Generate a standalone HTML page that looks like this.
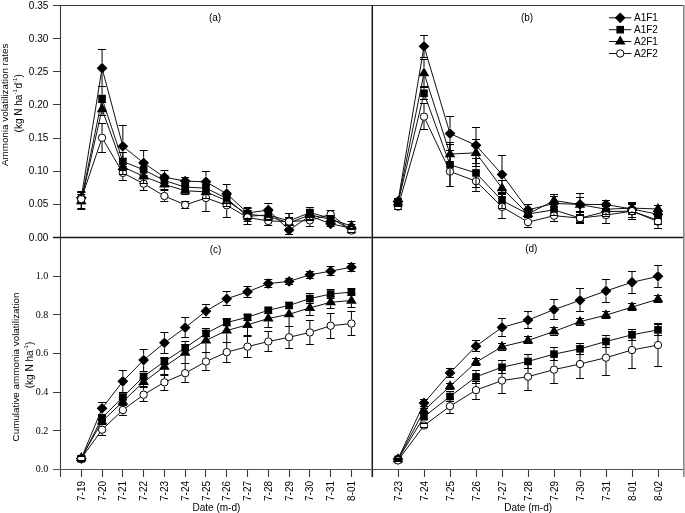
<!DOCTYPE html>
<html><head><meta charset="utf-8"><style>
html,body{margin:0;padding:0;background:#fff;width:685px;height:513px;overflow:hidden}
svg{display:block;will-change:transform}
</style></head><body>
<svg width="685" height="513" viewBox="0 0 685 513">
<rect x="0" y="0" width="685" height="513" fill="#fff"/>
<path d="M60.5 5.5V477M53 5.5H683.5M53 237.50H60.5M53 204.50H60.5M53 171.50H60.5M53 138.50H60.5M53 104.50H60.5M53 71.50H60.5M53 38.50H60.5M53 5.50H60.5M53 469.50H60.5M53 430.50H60.5M53 392.50H60.5M53 353.50H60.5M53 314.50H60.5M53 276.50H60.5M53 237.50H60.5M81.50 469.5V477M102.50 469.5V477M122.50 469.5V477M143.50 469.5V477M164.50 469.5V477M185.50 469.5V477M205.50 469.5V477M226.50 469.5V477M247.50 469.5V477M268.50 469.5V477M289.50 469.5V477M309.50 469.5V477M330.50 469.5V477M351.50 469.5V477M372.50 469.5V477M398.50 469.5V477M424.50 469.5V477M450.50 469.5V477M476.50 469.5V477M502.50 469.5V477M528.50 469.5V477M554.50 469.5V477M580.50 469.5V477M606.50 469.5V477M632.50 469.5V477M658.50 469.5V477M684.50 469.5V477" stroke="#3a3a3a" stroke-width="1.1" fill="none"/>
<path d="M372.3 5V477M53 237.5H684" stroke="#1a1a1a" stroke-width="1.5" fill="none"/>
<path d="M53 469.5H683" stroke="#555" stroke-width="1.1" fill="none"/>
<rect x="683" y="5" width="1" height="472" fill="#888"/>
<rect x="684" y="5" width="1" height="472" fill="#b3b3b3"/>
<polyline points="81.28,197.73 102.06,68.14 122.84,146.29 143.62,162.93 164.40,177.25 185.18,181.09 205.96,181.82 226.74,193.75 247.52,212.97 268.30,210.06 289.08,230.08 309.86,215.89 330.64,223.78 351.42,228.22" stroke="#111" stroke-width="1" fill="none"/>
<path d="M81.28 192.33L86.68 197.73L81.28 203.13L75.88 197.73Z" fill="#000"/>
<path d="M102.06 62.74L107.46 68.14L102.06 73.54L96.66 68.14Z" fill="#000"/>
<path d="M122.84 140.89L128.24 146.29L122.84 151.69L117.44 146.29Z" fill="#000"/>
<path d="M143.62 157.53L149.02 162.93L143.62 168.33L138.22 162.93Z" fill="#000"/>
<path d="M164.40 171.85L169.80 177.25L164.40 182.65L159.00 177.25Z" fill="#000"/>
<path d="M185.18 175.69L190.58 181.09L185.18 186.49L179.78 181.09Z" fill="#000"/>
<path d="M205.96 176.42L211.36 181.82L205.96 187.22L200.56 181.82Z" fill="#000"/>
<path d="M226.74 188.35L232.14 193.75L226.74 199.15L221.34 193.75Z" fill="#000"/>
<path d="M247.52 207.57L252.92 212.97L247.52 218.37L242.12 212.97Z" fill="#000"/>
<path d="M268.30 204.66L273.70 210.06L268.30 215.46L262.90 210.06Z" fill="#000"/>
<path d="M289.08 224.68L294.48 230.08L289.08 235.48L283.68 230.08Z" fill="#000"/>
<path d="M309.86 210.49L315.26 215.89L309.86 221.29L304.46 215.89Z" fill="#000"/>
<path d="M330.64 218.38L336.04 223.78L330.64 229.18L325.24 223.78Z" fill="#000"/>
<path d="M351.42 222.82L356.82 228.22L351.42 233.62L346.02 228.22Z" fill="#000"/>
<polyline points="81.28,200.38 102.06,98.57 122.84,161.47 143.62,169.76 164.40,180.49 185.18,187.12 205.96,188.12 226.74,198.39 247.52,216.29 268.30,214.96 289.08,220.93 309.86,212.58 330.64,218.28 351.42,229.88" stroke="#111" stroke-width="1" fill="none"/>
<rect x="77.48" y="196.58" width="7.60" height="7.60" fill="#000"/>
<rect x="98.26" y="94.77" width="7.60" height="7.60" fill="#000"/>
<rect x="119.04" y="157.67" width="7.60" height="7.60" fill="#000"/>
<rect x="139.82" y="165.96" width="7.60" height="7.60" fill="#000"/>
<rect x="160.60" y="176.69" width="7.60" height="7.60" fill="#000"/>
<rect x="181.38" y="183.32" width="7.60" height="7.60" fill="#000"/>
<rect x="202.16" y="184.32" width="7.60" height="7.60" fill="#000"/>
<rect x="222.94" y="194.59" width="7.60" height="7.60" fill="#000"/>
<rect x="243.72" y="212.49" width="7.60" height="7.60" fill="#000"/>
<rect x="264.50" y="211.16" width="7.60" height="7.60" fill="#000"/>
<rect x="285.28" y="217.13" width="7.60" height="7.60" fill="#000"/>
<rect x="306.06" y="208.78" width="7.60" height="7.60" fill="#000"/>
<rect x="326.84" y="214.48" width="7.60" height="7.60" fill="#000"/>
<rect x="347.62" y="226.08" width="7.60" height="7.60" fill="#000"/>
<polyline points="81.28,201.04 102.06,109.24 122.84,166.84 143.62,176.38 164.40,184.47 185.18,190.70 205.96,191.90 226.74,200.78 247.52,214.30 268.30,216.29 289.08,222.92 309.86,214.96 330.64,219.27 351.42,225.90" stroke="#111" stroke-width="1" fill="none"/>
<path d="M81.28 195.14L86.58 204.14L75.98 204.14Z" fill="#000"/>
<path d="M102.06 103.34L107.36 112.34L96.76 112.34Z" fill="#000"/>
<path d="M122.84 160.94L128.14 169.94L117.54 169.94Z" fill="#000"/>
<path d="M143.62 170.48L148.92 179.48L138.32 179.48Z" fill="#000"/>
<path d="M164.40 178.57L169.70 187.57L159.10 187.57Z" fill="#000"/>
<path d="M185.18 184.80L190.48 193.80L179.88 193.80Z" fill="#000"/>
<path d="M205.96 186.00L211.26 195.00L200.66 195.00Z" fill="#000"/>
<path d="M226.74 194.88L232.04 203.88L221.44 203.88Z" fill="#000"/>
<path d="M247.52 208.40L252.82 217.40L242.22 217.40Z" fill="#000"/>
<path d="M268.30 210.39L273.60 219.39L263.00 219.39Z" fill="#000"/>
<path d="M289.08 217.02L294.38 226.02L283.78 226.02Z" fill="#000"/>
<path d="M309.86 209.06L315.16 218.06L304.56 218.06Z" fill="#000"/>
<path d="M330.64 213.37L335.94 222.37L325.34 222.37Z" fill="#000"/>
<path d="M351.42 220.00L356.72 229.00L346.12 229.00Z" fill="#000"/>
<polyline points="81.28,199.05 102.06,137.74 122.84,172.87 143.62,183.68 164.40,196.01 185.18,204.89 205.96,197.99 226.74,205.29 247.52,217.42 268.30,220.99 289.08,221.59 309.86,220.40 330.64,214.30 351.42,230.54" stroke="#111" stroke-width="1" fill="none"/>
<circle cx="81.28" cy="199.05" r="3.7" fill="#fff" stroke="#000" stroke-width="1"/>
<circle cx="102.06" cy="137.74" r="3.7" fill="#fff" stroke="#000" stroke-width="1"/>
<circle cx="122.84" cy="172.87" r="3.7" fill="#fff" stroke="#000" stroke-width="1"/>
<circle cx="143.62" cy="183.68" r="3.7" fill="#fff" stroke="#000" stroke-width="1"/>
<circle cx="164.40" cy="196.01" r="3.7" fill="#fff" stroke="#000" stroke-width="1"/>
<circle cx="185.18" cy="204.89" r="3.7" fill="#fff" stroke="#000" stroke-width="1"/>
<circle cx="205.96" cy="197.99" r="3.7" fill="#fff" stroke="#000" stroke-width="1"/>
<circle cx="226.74" cy="205.29" r="3.7" fill="#fff" stroke="#000" stroke-width="1"/>
<circle cx="247.52" cy="217.42" r="3.7" fill="#fff" stroke="#000" stroke-width="1"/>
<circle cx="268.30" cy="220.99" r="3.7" fill="#fff" stroke="#000" stroke-width="1"/>
<circle cx="289.08" cy="221.59" r="3.7" fill="#fff" stroke="#000" stroke-width="1"/>
<circle cx="309.86" cy="220.40" r="3.7" fill="#fff" stroke="#000" stroke-width="1"/>
<circle cx="330.64" cy="214.30" r="3.7" fill="#fff" stroke="#000" stroke-width="1"/>
<circle cx="351.42" cy="230.54" r="3.7" fill="#fff" stroke="#000" stroke-width="1"/>
<path d="M81.28 191.50V192.33M81.28 203.50V203.13M102.06 49.50V62.74M102.06 86.50V73.54M122.84 125.50V140.89M122.84 166.50V151.69M143.62 150.50V157.53M143.62 175.50V168.33M164.40 170.50V171.85M164.40 183.50V182.65M205.96 171.50V176.42M205.96 192.50V187.22M226.74 184.50V188.35M226.74 203.50V199.15M247.52 207.50V207.57M247.52 218.50V218.37M268.30 203.50V204.66M268.30 216.50V215.46" stroke="#000" stroke-width="1" fill="none"/>
<path d="M77.28 191.50H85.28M77.28 203.50H85.28M98.06 49.50H106.06M98.06 86.50H106.06M118.84 125.50H126.84M118.84 166.50H126.84M139.62 150.50H147.62M139.62 175.50H147.62M160.40 170.50H168.40M160.40 183.50H168.40M181.18 177.50H189.18M181.18 185.50H189.18M201.96 171.50H209.96M201.96 192.50H209.96M222.74 184.50H230.74M222.74 203.50H230.74M243.52 207.50H251.52M243.52 218.50H251.52M264.30 203.50H272.30M264.30 216.50H272.30M285.08 225.50H293.08M285.08 234.50H293.08M305.86 211.50H313.86M305.86 220.50H313.86M326.64 221.50H334.64M326.64 226.50H334.64M347.42 224.50H355.42M347.42 232.50H355.42" stroke="#000" stroke-width="1" fill="none"/>
<path d="M81.28 192.50V196.58M81.28 208.50V204.18M102.06 86.50V94.77M102.06 110.50V102.37M122.84 152.50V157.67M122.84 170.50V165.27M143.62 161.50V165.96M143.62 177.50V173.56M164.40 175.50V176.69M164.40 185.50V184.29M185.18 191.50V190.92M205.96 181.50V184.32M205.96 194.50V191.92M226.74 193.50V194.59M226.74 203.50V202.19M247.52 210.50V212.49M247.52 221.50V220.09M268.30 210.50V211.16M268.30 219.50V218.76M289.08 213.50V217.13M289.08 228.50V224.73M309.86 207.50V208.78M309.86 217.50V216.38" stroke="#000" stroke-width="1" fill="none"/>
<path d="M77.28 192.50H85.28M77.28 208.50H85.28M98.06 86.50H106.06M98.06 110.50H106.06M118.84 152.50H126.84M118.84 170.50H126.84M139.62 161.50H147.62M139.62 177.50H147.62M160.40 175.50H168.40M160.40 185.50H168.40M181.18 183.50H189.18M181.18 191.50H189.18M201.96 181.50H209.96M201.96 194.50H209.96M222.74 193.50H230.74M222.74 203.50H230.74M243.52 210.50H251.52M243.52 221.50H251.52M264.30 210.50H272.30M264.30 219.50H272.30M285.08 213.50H293.08M285.08 228.50H293.08M305.86 207.50H313.86M305.86 217.50H313.86M326.64 215.50H334.64M326.64 220.50H334.64M347.42 226.50H355.42M347.42 232.50H355.42" stroke="#000" stroke-width="1" fill="none"/>
<path d="M81.28 192.50V195.14M81.28 209.50V204.14M102.06 102.50V103.34M102.06 115.50V112.34M122.84 158.50V160.94M122.84 174.50V169.94M143.62 169.50V170.48M143.62 183.50V179.48M164.40 189.50V187.57M185.18 194.50V193.80M205.96 185.50V186.00M205.96 198.50V195.00M226.74 206.50V203.88M247.52 219.50V217.40M268.30 220.50V219.39M289.08 228.50V226.02M309.86 219.50V218.06M351.42 229.50V229.00" stroke="#000" stroke-width="1" fill="none"/>
<path d="M77.28 192.50H85.28M77.28 209.50H85.28M98.06 102.50H106.06M98.06 115.50H106.06M118.84 158.50H126.84M118.84 174.50H126.84M139.62 169.50H147.62M139.62 183.50H147.62M160.40 179.50H168.40M160.40 189.50H168.40M181.18 186.50H189.18M181.18 194.50H189.18M201.96 185.50H209.96M201.96 198.50H209.96M222.74 195.50H230.74M222.74 206.50H230.74M243.52 208.50H251.52M243.52 219.50H251.52M264.30 211.50H272.30M264.30 220.50H272.30M285.08 217.50H293.08M285.08 228.50H293.08M305.86 210.50H313.86M305.86 219.50H313.86M326.64 216.50H334.64M326.64 221.50H334.64M347.42 221.50H355.42M347.42 229.50H355.42" stroke="#000" stroke-width="1" fill="none"/>
<path d="M81.28 194.50V194.85M81.28 203.50V203.25M102.06 123.50V133.54M102.06 152.50V141.94M122.84 164.50V168.67M122.84 180.50V177.07M143.62 176.50V179.48M143.62 190.50V187.88M164.40 190.50V191.81M164.40 201.50V200.21M205.96 184.50V193.79M205.96 211.50V202.19M226.74 193.50V201.09M226.74 217.50V209.49M247.52 210.50V213.22M247.52 224.50V221.62M268.30 216.50V216.79M268.30 225.50V225.19M289.08 213.50V217.39M289.08 229.50V225.79M309.86 214.50V216.20M309.86 226.50V224.60" stroke="#000" stroke-width="1" fill="none"/>
<path d="M77.28 194.50H85.28M77.28 203.50H85.28M98.06 123.50H106.06M98.06 152.50H106.06M118.84 164.50H126.84M118.84 180.50H126.84M139.62 176.50H147.62M139.62 190.50H147.62M160.40 190.50H168.40M160.40 201.50H168.40M181.18 201.50H189.18M181.18 208.50H189.18M201.96 184.50H209.96M201.96 211.50H209.96M222.74 193.50H230.74M222.74 217.50H230.74M243.52 210.50H251.52M243.52 224.50H251.52M264.30 216.50H272.30M264.30 225.50H272.30M285.08 213.50H293.08M285.08 229.50H293.08M305.86 214.50H313.86M305.86 226.50H313.86M326.64 210.50H334.64M326.64 217.50H334.64M347.42 228.50H355.42M347.42 232.50H355.42" stroke="#000" stroke-width="1" fill="none"/>
<polyline points="398.00,201.51 424.00,46.33 450.00,133.56 476.00,145.36 502.00,174.40 528.00,209.86 554.00,203.50 580.00,204.36 606.00,204.56 632.00,209.00 658.00,214.30" stroke="#111" stroke-width="1" fill="none"/>
<path d="M398.00 196.11L403.40 201.51L398.00 206.91L392.60 201.51Z" fill="#000"/>
<path d="M424.00 40.93L429.40 46.33L424.00 51.73L418.60 46.33Z" fill="#000"/>
<path d="M450.00 128.16L455.40 133.56L450.00 138.96L444.60 133.56Z" fill="#000"/>
<path d="M476.00 139.96L481.40 145.36L476.00 150.76L470.60 145.36Z" fill="#000"/>
<path d="M502.00 169.00L507.40 174.40L502.00 179.80L496.60 174.40Z" fill="#000"/>
<path d="M528.00 204.46L533.40 209.86L528.00 215.26L522.60 209.86Z" fill="#000"/>
<path d="M554.00 198.10L559.40 203.50L554.00 208.90L548.60 203.50Z" fill="#000"/>
<path d="M580.00 198.96L585.40 204.36L580.00 209.76L574.60 204.36Z" fill="#000"/>
<path d="M606.00 199.16L611.40 204.56L606.00 209.96L600.60 204.56Z" fill="#000"/>
<path d="M632.00 203.60L637.40 209.00L632.00 214.40L626.60 209.00Z" fill="#000"/>
<path d="M658.00 208.90L663.40 214.30L658.00 219.70L652.60 214.30Z" fill="#000"/>
<polyline points="398.00,203.03 424.00,93.26 450.00,164.78 476.00,172.94 502.00,200.51 528.00,213.97 554.00,209.86 580.00,218.08 606.00,211.65 632.00,211.12 658.00,220.27" stroke="#111" stroke-width="1" fill="none"/>
<rect x="394.20" y="199.23" width="7.60" height="7.60" fill="#000"/>
<rect x="420.20" y="89.46" width="7.60" height="7.60" fill="#000"/>
<rect x="446.20" y="160.98" width="7.60" height="7.60" fill="#000"/>
<rect x="472.20" y="169.14" width="7.60" height="7.60" fill="#000"/>
<rect x="498.20" y="196.71" width="7.60" height="7.60" fill="#000"/>
<rect x="524.20" y="210.17" width="7.60" height="7.60" fill="#000"/>
<rect x="550.20" y="206.06" width="7.60" height="7.60" fill="#000"/>
<rect x="576.20" y="214.28" width="7.60" height="7.60" fill="#000"/>
<rect x="602.20" y="207.85" width="7.60" height="7.60" fill="#000"/>
<rect x="628.20" y="207.32" width="7.60" height="7.60" fill="#000"/>
<rect x="654.20" y="216.47" width="7.60" height="7.60" fill="#000"/>
<polyline points="398.00,202.37 424.00,73.11 450.00,154.05 476.00,152.85 502.00,188.12 528.00,213.97 554.00,200.51 580.00,204.56 606.00,209.26 632.00,208.07 658.00,209.00" stroke="#111" stroke-width="1" fill="none"/>
<path d="M398.00 196.47L403.30 205.47L392.70 205.47Z" fill="#000"/>
<path d="M424.00 67.21L429.30 76.21L418.70 76.21Z" fill="#000"/>
<path d="M450.00 148.15L455.30 157.15L444.70 157.15Z" fill="#000"/>
<path d="M476.00 146.95L481.30 155.95L470.70 155.95Z" fill="#000"/>
<path d="M502.00 182.22L507.30 191.22L496.70 191.22Z" fill="#000"/>
<path d="M528.00 208.07L533.30 217.07L522.70 217.07Z" fill="#000"/>
<path d="M554.00 194.61L559.30 203.61L548.70 203.61Z" fill="#000"/>
<path d="M580.00 198.66L585.30 207.66L574.70 207.66Z" fill="#000"/>
<path d="M606.00 203.36L611.30 212.36L600.70 212.36Z" fill="#000"/>
<path d="M632.00 202.17L637.30 211.17L626.70 211.17Z" fill="#000"/>
<path d="M658.00 203.10L663.30 212.10L652.70 212.10Z" fill="#000"/>
<polyline points="398.00,206.61 424.00,116.66 450.00,171.55 476.00,181.16 502.00,206.88 528.00,222.12 554.00,215.69 580.00,218.08 606.00,215.10 632.00,211.12 658.00,221.59" stroke="#111" stroke-width="1" fill="none"/>
<circle cx="398.00" cy="206.61" r="3.7" fill="#fff" stroke="#000" stroke-width="1"/>
<circle cx="424.00" cy="116.66" r="3.7" fill="#fff" stroke="#000" stroke-width="1"/>
<circle cx="450.00" cy="171.55" r="3.7" fill="#fff" stroke="#000" stroke-width="1"/>
<circle cx="476.00" cy="181.16" r="3.7" fill="#fff" stroke="#000" stroke-width="1"/>
<circle cx="502.00" cy="206.88" r="3.7" fill="#fff" stroke="#000" stroke-width="1"/>
<circle cx="528.00" cy="222.12" r="3.7" fill="#fff" stroke="#000" stroke-width="1"/>
<circle cx="554.00" cy="215.69" r="3.7" fill="#fff" stroke="#000" stroke-width="1"/>
<circle cx="580.00" cy="218.08" r="3.7" fill="#fff" stroke="#000" stroke-width="1"/>
<circle cx="606.00" cy="215.10" r="3.7" fill="#fff" stroke="#000" stroke-width="1"/>
<circle cx="632.00" cy="211.12" r="3.7" fill="#fff" stroke="#000" stroke-width="1"/>
<circle cx="658.00" cy="221.59" r="3.7" fill="#fff" stroke="#000" stroke-width="1"/>
<path d="M424.00 35.50V40.93M424.00 57.50V51.73M450.00 116.50V128.16M450.00 150.50V138.96M476.00 127.50V139.96M476.00 163.50V150.76M502.00 155.50V169.00M502.00 193.50V179.80M528.00 215.50V215.26M554.00 196.50V198.10M554.00 210.50V208.90M580.00 197.50V198.96M580.00 211.50V209.76M632.00 203.50V203.60M632.00 214.50V214.40" stroke="#000" stroke-width="1" fill="none"/>
<path d="M394.00 198.50H402.00M394.00 204.50H402.00M420.00 35.50H428.00M420.00 57.50H428.00M446.00 116.50H454.00M446.00 150.50H454.00M472.00 127.50H480.00M472.00 163.50H480.00M498.00 155.50H506.00M498.00 193.50H506.00M524.00 204.50H532.00M524.00 215.50H532.00M550.00 196.50H558.00M550.00 210.50H558.00M576.00 197.50H584.00M576.00 211.50H584.00M602.00 200.50H610.00M602.00 208.50H610.00M628.00 203.50H636.00M628.00 214.50H636.00M654.00 210.50H662.00M654.00 218.50H662.00" stroke="#000" stroke-width="1" fill="none"/>
<path d="M424.00 87.50V89.46M424.00 99.50V97.06M450.00 142.50V160.98M450.00 186.50V168.58M476.00 158.50V169.14M476.00 187.50V176.74M502.00 192.50V196.71M502.00 208.50V204.31M528.00 209.50V210.17M554.00 204.50V206.06M554.00 215.50V213.66M580.00 222.50V221.88M606.00 206.50V207.85M606.00 216.50V215.45M632.00 204.50V207.32M632.00 217.50V214.92M658.00 224.50V224.07" stroke="#000" stroke-width="1" fill="none"/>
<path d="M394.00 199.50H402.00M394.00 206.50H402.00M420.00 87.50H428.00M420.00 99.50H428.00M446.00 142.50H454.00M446.00 186.50H454.00M472.00 158.50H480.00M472.00 187.50H480.00M498.00 192.50H506.00M498.00 208.50H506.00M524.00 209.50H532.00M524.00 217.50H532.00M550.00 204.50H558.00M550.00 215.50H558.00M576.00 214.50H584.00M576.00 222.50H584.00M602.00 206.50H610.00M602.00 216.50H610.00M628.00 204.50H636.00M628.00 217.50H636.00M654.00 216.50H662.00M654.00 224.50H662.00" stroke="#000" stroke-width="1" fill="none"/>
<path d="M398.00 205.50V205.47M424.00 59.50V67.21M424.00 86.50V76.21M450.00 144.50V148.15M450.00 163.50V157.15M476.00 139.50V146.95M476.00 166.50V155.95M502.00 180.50V182.22M502.00 196.50V191.22M528.00 217.50V217.07M554.00 194.50V194.61M554.00 206.50V203.61M580.00 193.50V198.66M580.00 215.50V207.66M606.00 214.50V212.36M632.00 212.50V211.17M658.00 212.50V212.10" stroke="#000" stroke-width="1" fill="none"/>
<path d="M394.00 199.50H402.00M394.00 205.50H402.00M420.00 59.50H428.00M420.00 86.50H428.00M446.00 144.50H454.00M446.00 163.50H454.00M472.00 139.50H480.00M472.00 166.50H480.00M498.00 180.50H506.00M498.00 196.50H506.00M524.00 209.50H532.00M524.00 217.50H532.00M550.00 194.50H558.00M550.00 206.50H558.00M576.00 193.50H584.00M576.00 215.50H584.00M602.00 203.50H610.00M602.00 214.50H610.00M628.00 204.50H636.00M628.00 212.50H636.00M654.00 205.50H662.00M654.00 212.50H662.00" stroke="#000" stroke-width="1" fill="none"/>
<path d="M424.00 103.50V112.46M424.00 129.50V120.86M450.00 156.50V167.35M450.00 186.50V175.75M476.00 171.50V176.96M476.00 191.50V185.36M502.00 194.50V202.68M502.00 218.50V211.08M528.00 216.50V217.92M528.00 227.50V226.32M554.00 209.50V211.49M554.00 221.50V219.89M580.00 212.50V213.88M580.00 223.50V222.28M606.00 206.50V210.90M606.00 223.50V219.30M632.00 202.50V206.92M632.00 219.50V215.32M658.00 214.50V217.39M658.00 228.50V225.79" stroke="#000" stroke-width="1" fill="none"/>
<path d="M394.00 203.50H402.00M394.00 209.50H402.00M420.00 103.50H428.00M420.00 129.50H428.00M446.00 156.50H454.00M446.00 186.50H454.00M472.00 171.50H480.00M472.00 191.50H480.00M498.00 194.50H506.00M498.00 218.50H506.00M524.00 216.50H532.00M524.00 227.50H532.00M550.00 209.50H558.00M550.00 221.50H558.00M576.00 212.50H584.00M576.00 223.50H584.00M602.00 206.50H610.00M602.00 223.50H610.00M628.00 202.50H636.00M628.00 219.50H636.00M654.00 214.50H662.00M654.00 228.50H662.00" stroke="#000" stroke-width="1" fill="none"/>
<polyline points="81.28,458.48 102.06,408.33 122.84,381.34 143.62,360.07 164.40,342.87 185.18,327.59 205.96,311.16 226.74,298.79 247.52,291.83 268.30,283.57 289.08,281.39 309.86,274.81 330.64,271.14 351.42,267.16" stroke="#111" stroke-width="1" fill="none"/>
<path d="M81.28 453.08L86.68 458.48L81.28 463.88L75.88 458.48Z" fill="#000"/>
<path d="M102.06 402.93L107.46 408.33L102.06 413.73L96.66 408.33Z" fill="#000"/>
<path d="M122.84 375.94L128.24 381.34L122.84 386.74L117.44 381.34Z" fill="#000"/>
<path d="M143.62 354.67L149.02 360.07L143.62 365.47L138.22 360.07Z" fill="#000"/>
<path d="M164.40 337.47L169.80 342.87L164.40 348.27L159.00 342.87Z" fill="#000"/>
<path d="M185.18 322.19L190.58 327.59L185.18 332.99L179.78 327.59Z" fill="#000"/>
<path d="M205.96 305.76L211.36 311.16L205.96 316.56L200.56 311.16Z" fill="#000"/>
<path d="M226.74 293.39L232.14 298.79L226.74 304.19L221.34 298.79Z" fill="#000"/>
<path d="M247.52 286.43L252.92 291.83L247.52 297.23L242.12 291.83Z" fill="#000"/>
<path d="M268.30 278.17L273.70 283.57L268.30 288.97L262.90 283.57Z" fill="#000"/>
<path d="M289.08 275.99L294.48 281.39L289.08 286.79L283.68 281.39Z" fill="#000"/>
<path d="M309.86 269.41L315.26 274.81L309.86 280.21L304.46 274.81Z" fill="#000"/>
<path d="M330.64 265.74L336.04 271.14L330.64 276.54L325.24 271.14Z" fill="#000"/>
<path d="M351.42 261.76L356.82 267.16L351.42 272.56L346.02 267.16Z" fill="#000"/>
<polyline points="81.28,458.87 102.06,417.88 122.84,397.00 143.62,376.51 164.40,361.43 185.18,347.89 205.96,333.45 226.74,322.57 247.52,317.25 268.30,310.25 289.08,305.44 309.86,298.59 330.64,294.05 351.42,292.02" stroke="#111" stroke-width="1" fill="none"/>
<rect x="77.48" y="455.07" width="7.60" height="7.60" fill="#000"/>
<rect x="98.26" y="414.08" width="7.60" height="7.60" fill="#000"/>
<rect x="119.04" y="393.20" width="7.60" height="7.60" fill="#000"/>
<rect x="139.82" y="372.71" width="7.60" height="7.60" fill="#000"/>
<rect x="160.60" y="357.63" width="7.60" height="7.60" fill="#000"/>
<rect x="181.38" y="344.09" width="7.60" height="7.60" fill="#000"/>
<rect x="202.16" y="329.65" width="7.60" height="7.60" fill="#000"/>
<rect x="222.94" y="318.77" width="7.60" height="7.60" fill="#000"/>
<rect x="243.72" y="313.45" width="7.60" height="7.60" fill="#000"/>
<rect x="264.50" y="306.45" width="7.60" height="7.60" fill="#000"/>
<rect x="285.28" y="301.64" width="7.60" height="7.60" fill="#000"/>
<rect x="306.06" y="294.79" width="7.60" height="7.60" fill="#000"/>
<rect x="326.84" y="290.25" width="7.60" height="7.60" fill="#000"/>
<rect x="347.62" y="288.22" width="7.60" height="7.60" fill="#000"/>
<polyline points="81.28,457.90 102.06,421.36 122.84,401.64 143.62,381.92 164.40,366.65 185.18,352.63 205.96,340.45 226.74,330.49 247.52,324.89 268.30,318.51 289.08,314.25 309.86,307.87 330.64,302.27 351.42,300.53" stroke="#111" stroke-width="1" fill="none"/>
<path d="M81.28 452.00L86.58 461.00L75.98 461.00Z" fill="#000"/>
<path d="M102.06 415.46L107.36 424.46L96.76 424.46Z" fill="#000"/>
<path d="M122.84 395.74L128.14 404.74L117.54 404.74Z" fill="#000"/>
<path d="M143.62 376.02L148.92 385.02L138.32 385.02Z" fill="#000"/>
<path d="M164.40 360.75L169.70 369.75L159.10 369.75Z" fill="#000"/>
<path d="M185.18 346.73L190.48 355.73L179.88 355.73Z" fill="#000"/>
<path d="M205.96 334.55L211.26 343.55L200.66 343.55Z" fill="#000"/>
<path d="M226.74 324.59L232.04 333.59L221.44 333.59Z" fill="#000"/>
<path d="M247.52 318.99L252.82 327.99L242.22 327.99Z" fill="#000"/>
<path d="M268.30 312.61L273.60 321.61L263.00 321.61Z" fill="#000"/>
<path d="M289.08 308.35L294.38 317.35L283.78 317.35Z" fill="#000"/>
<path d="M309.86 301.97L315.16 310.97L304.56 310.97Z" fill="#000"/>
<path d="M330.64 296.37L335.94 305.37L325.34 305.37Z" fill="#000"/>
<path d="M351.42 294.63L356.72 303.63L346.12 303.63Z" fill="#000"/>
<polyline points="81.28,458.48 102.06,429.67 122.84,410.01 143.62,394.68 164.40,382.31 185.18,373.22 205.96,361.54 226.74,352.15 247.52,346.64 268.30,341.51 289.08,337.26 309.86,332.43 330.64,325.76 351.42,323.53" stroke="#111" stroke-width="1" fill="none"/>
<circle cx="81.28" cy="458.48" r="3.7" fill="#fff" stroke="#000" stroke-width="1"/>
<circle cx="102.06" cy="429.67" r="3.7" fill="#fff" stroke="#000" stroke-width="1"/>
<circle cx="122.84" cy="410.01" r="3.7" fill="#fff" stroke="#000" stroke-width="1"/>
<circle cx="143.62" cy="394.68" r="3.7" fill="#fff" stroke="#000" stroke-width="1"/>
<circle cx="164.40" cy="382.31" r="3.7" fill="#fff" stroke="#000" stroke-width="1"/>
<circle cx="185.18" cy="373.22" r="3.7" fill="#fff" stroke="#000" stroke-width="1"/>
<circle cx="205.96" cy="361.54" r="3.7" fill="#fff" stroke="#000" stroke-width="1"/>
<circle cx="226.74" cy="352.15" r="3.7" fill="#fff" stroke="#000" stroke-width="1"/>
<circle cx="247.52" cy="346.64" r="3.7" fill="#fff" stroke="#000" stroke-width="1"/>
<circle cx="268.30" cy="341.51" r="3.7" fill="#fff" stroke="#000" stroke-width="1"/>
<circle cx="289.08" cy="337.26" r="3.7" fill="#fff" stroke="#000" stroke-width="1"/>
<circle cx="309.86" cy="332.43" r="3.7" fill="#fff" stroke="#000" stroke-width="1"/>
<circle cx="330.64" cy="325.76" r="3.7" fill="#fff" stroke="#000" stroke-width="1"/>
<circle cx="351.42" cy="323.53" r="3.7" fill="#fff" stroke="#000" stroke-width="1"/>
<path d="M102.06 402.50V402.93M102.06 414.50V413.73M122.84 370.50V375.94M122.84 392.50V386.74M143.62 349.50V354.67M143.62 371.50V365.47M164.40 332.50V337.47M164.40 353.50V348.27M185.18 317.50V322.19M185.18 337.50V332.99M205.96 304.50V305.76M205.96 317.50V316.56M226.74 291.50V293.39M226.74 305.50V304.19M247.52 297.50V297.23" stroke="#000" stroke-width="1" fill="none"/>
<path d="M77.28 456.50H85.28M77.28 460.50H85.28M98.06 402.50H106.06M98.06 414.50H106.06M118.84 370.50H126.84M118.84 392.50H126.84M139.62 349.50H147.62M139.62 371.50H147.62M160.40 332.50H168.40M160.40 353.50H168.40M181.18 317.50H189.18M181.18 337.50H189.18M201.96 304.50H209.96M201.96 317.50H209.96M222.74 291.50H230.74M222.74 305.50H230.74M243.52 286.50H251.52M243.52 297.50H251.52M264.30 279.50H272.30M264.30 287.50H272.30M285.08 278.50H293.08M285.08 284.50H293.08M305.86 271.50H313.86M305.86 278.50H313.86M326.64 266.50H334.64M326.64 275.50H334.64M347.42 263.50H355.42M347.42 271.50H355.42" stroke="#000" stroke-width="1" fill="none"/>
<path d="M309.86 293.50V294.79M309.86 303.50V302.39M330.64 289.50V290.25M330.64 298.50V297.85" stroke="#000" stroke-width="1" fill="none"/>
<path d="M77.28 456.50H85.28M77.28 461.50H85.28M98.06 415.50H106.06M98.06 420.50H106.06M118.84 394.50H126.84M118.84 399.50H126.84M139.62 373.50H147.62M139.62 379.50H147.62M160.40 358.50H168.40M160.40 364.50H168.40M181.18 344.50H189.18M181.18 350.50H189.18M201.96 330.50H209.96M201.96 336.50H209.96M222.74 319.50H230.74M222.74 325.50H230.74M243.52 314.50H251.52M243.52 320.50H251.52M264.30 307.50H272.30M264.30 313.50H272.30M285.08 302.50H293.08M285.08 308.50H293.08M305.86 293.50H313.86M305.86 303.50H313.86M326.64 289.50H334.64M326.64 298.50H334.64M347.42 288.50H355.42M347.42 295.50H355.42" stroke="#000" stroke-width="1" fill="none"/>
<path d="M122.84 405.50V404.74M143.62 386.50V385.02M164.40 357.50V360.75M164.40 375.50V369.75M185.18 341.50V346.73M185.18 363.50V355.73M205.96 328.50V334.55M205.96 352.50V343.55M226.74 318.50V324.59M226.74 342.50V333.59M247.52 314.50V318.99M247.52 335.50V327.99M268.30 309.50V312.61M268.30 327.50V321.61M289.08 302.50V308.35M289.08 326.50V317.35M309.86 299.50V301.97M309.86 315.50V310.97M330.64 308.50V305.37M351.42 293.50V294.63M351.42 307.50V303.63" stroke="#000" stroke-width="1" fill="none"/>
<path d="M77.28 455.50H85.28M77.28 460.50H85.28M98.06 419.50H106.06M98.06 423.50H106.06M118.84 397.50H126.84M118.84 405.50H126.84M139.62 377.50H147.62M139.62 386.50H147.62M160.40 357.50H168.40M160.40 375.50H168.40M181.18 341.50H189.18M181.18 363.50H189.18M201.96 328.50H209.96M201.96 352.50H209.96M222.74 318.50H230.74M222.74 342.50H230.74M243.52 314.50H251.52M243.52 335.50H251.52M264.30 309.50H272.30M264.30 327.50H272.30M285.08 302.50H293.08M285.08 326.50H293.08M305.86 299.50H313.86M305.86 315.50H313.86M326.64 296.50H334.64M326.64 308.50H334.64M347.42 293.50H355.42M347.42 307.50H355.42" stroke="#000" stroke-width="1" fill="none"/>
<path d="M102.06 424.50V425.47M102.06 435.50V433.87M122.84 404.50V405.81M122.84 415.50V414.21M143.62 387.50V390.48M143.62 401.50V398.88M164.40 374.50V378.11M164.40 390.50V386.51M185.18 363.50V369.02M185.18 382.50V377.42M205.96 352.50V357.34M205.96 370.50V365.74M226.74 342.50V347.95M226.74 362.50V356.35M247.52 336.50V342.44M247.52 357.50V350.84M268.30 331.50V337.31M268.30 351.50V345.71M289.08 326.50V333.06M289.08 348.50V341.46M309.86 320.50V328.23M309.86 344.50V336.63M330.64 313.50V321.56M330.64 338.50V329.96M351.42 311.50V319.33M351.42 335.50V327.73" stroke="#000" stroke-width="1" fill="none"/>
<path d="M77.28 456.50H85.28M77.28 460.50H85.28M98.06 424.50H106.06M98.06 435.50H106.06M118.84 404.50H126.84M118.84 415.50H126.84M139.62 387.50H147.62M139.62 401.50H147.62M160.40 374.50H168.40M160.40 390.50H168.40M181.18 363.50H189.18M181.18 382.50H189.18M201.96 352.50H209.96M201.96 370.50H209.96M222.74 342.50H230.74M222.74 362.50H230.74M243.52 336.50H251.52M243.52 357.50H251.52M264.30 331.50H272.30M264.30 351.50H272.30M285.08 326.50H293.08M285.08 348.50H293.08M305.86 320.50H313.86M305.86 344.50H313.86M326.64 313.50H334.64M326.64 338.50H334.64M347.42 311.50H355.42M347.42 335.50H355.42" stroke="#000" stroke-width="1" fill="none"/>
<polyline points="398.00,459.06 424.00,402.99 450.00,372.93 476.00,346.15 502.00,327.40 528.00,320.05 554.00,309.61 580.00,300.33 606.00,290.96 632.00,282.26 658.00,276.36" stroke="#111" stroke-width="1" fill="none"/>
<path d="M398.00 453.66L403.40 459.06L398.00 464.46L392.60 459.06Z" fill="#000"/>
<path d="M424.00 397.59L429.40 402.99L424.00 408.39L418.60 402.99Z" fill="#000"/>
<path d="M450.00 367.53L455.40 372.93L450.00 378.33L444.60 372.93Z" fill="#000"/>
<path d="M476.00 340.75L481.40 346.15L476.00 351.55L470.60 346.15Z" fill="#000"/>
<path d="M502.00 322.00L507.40 327.40L502.00 332.80L496.60 327.40Z" fill="#000"/>
<path d="M528.00 314.65L533.40 320.05L528.00 325.45L522.60 320.05Z" fill="#000"/>
<path d="M554.00 304.21L559.40 309.61L554.00 315.01L548.60 309.61Z" fill="#000"/>
<path d="M580.00 294.93L585.40 300.33L580.00 305.73L574.60 300.33Z" fill="#000"/>
<path d="M606.00 285.56L611.40 290.96L606.00 296.36L600.60 290.96Z" fill="#000"/>
<path d="M632.00 276.86L637.40 282.26L632.00 287.66L626.60 282.26Z" fill="#000"/>
<path d="M658.00 270.96L663.40 276.36L658.00 281.76L652.60 276.36Z" fill="#000"/>
<polyline points="398.00,459.45 424.00,416.72 450.00,396.52 476.00,376.84 502.00,367.23 528.00,361.43 554.00,354.12 580.00,348.86 606.00,341.51 632.00,334.82 658.00,329.86" stroke="#111" stroke-width="1" fill="none"/>
<rect x="394.20" y="455.65" width="7.60" height="7.60" fill="#000"/>
<rect x="420.20" y="412.92" width="7.60" height="7.60" fill="#000"/>
<rect x="446.20" y="392.72" width="7.60" height="7.60" fill="#000"/>
<rect x="472.20" y="373.04" width="7.60" height="7.60" fill="#000"/>
<rect x="498.20" y="363.43" width="7.60" height="7.60" fill="#000"/>
<rect x="524.20" y="357.63" width="7.60" height="7.60" fill="#000"/>
<rect x="550.20" y="350.32" width="7.60" height="7.60" fill="#000"/>
<rect x="576.20" y="345.06" width="7.60" height="7.60" fill="#000"/>
<rect x="602.20" y="337.71" width="7.60" height="7.60" fill="#000"/>
<rect x="628.20" y="331.02" width="7.60" height="7.60" fill="#000"/>
<rect x="654.20" y="326.06" width="7.60" height="7.60" fill="#000"/>
<polyline points="398.00,459.25 424.00,410.53 450.00,386.23 476.00,362.24 502.00,346.73 528.00,340.45 554.00,331.46 580.00,321.60 606.00,315.14 632.00,307.10 658.00,299.17" stroke="#111" stroke-width="1" fill="none"/>
<path d="M398.00 453.35L403.30 462.35L392.70 462.35Z" fill="#000"/>
<path d="M424.00 404.63L429.30 413.63L418.70 413.63Z" fill="#000"/>
<path d="M450.00 380.33L455.30 389.33L444.70 389.33Z" fill="#000"/>
<path d="M476.00 356.34L481.30 365.34L470.70 365.34Z" fill="#000"/>
<path d="M502.00 340.83L507.30 349.83L496.70 349.83Z" fill="#000"/>
<path d="M528.00 334.55L533.30 343.55L522.70 343.55Z" fill="#000"/>
<path d="M554.00 325.56L559.30 334.56L548.70 334.56Z" fill="#000"/>
<path d="M580.00 315.70L585.30 324.70L574.70 324.70Z" fill="#000"/>
<path d="M606.00 309.24L611.30 318.24L600.70 318.24Z" fill="#000"/>
<path d="M632.00 301.20L637.30 310.20L626.70 310.20Z" fill="#000"/>
<path d="M658.00 293.27L663.30 302.27L652.70 302.27Z" fill="#000"/>
<polyline points="398.00,460.41 424.00,425.52 450.00,406.22 476.00,390.12 502.00,380.57 528.00,376.70 554.00,369.62 580.00,364.04 606.00,357.64 632.00,350.02 658.00,345.05" stroke="#111" stroke-width="1" fill="none"/>
<circle cx="398.00" cy="460.41" r="3.7" fill="#fff" stroke="#000" stroke-width="1"/>
<circle cx="424.00" cy="425.52" r="3.7" fill="#fff" stroke="#000" stroke-width="1"/>
<circle cx="450.00" cy="406.22" r="3.7" fill="#fff" stroke="#000" stroke-width="1"/>
<circle cx="476.00" cy="390.12" r="3.7" fill="#fff" stroke="#000" stroke-width="1"/>
<circle cx="502.00" cy="380.57" r="3.7" fill="#fff" stroke="#000" stroke-width="1"/>
<circle cx="528.00" cy="376.70" r="3.7" fill="#fff" stroke="#000" stroke-width="1"/>
<circle cx="554.00" cy="369.62" r="3.7" fill="#fff" stroke="#000" stroke-width="1"/>
<circle cx="580.00" cy="364.04" r="3.7" fill="#fff" stroke="#000" stroke-width="1"/>
<circle cx="606.00" cy="357.64" r="3.7" fill="#fff" stroke="#000" stroke-width="1"/>
<circle cx="632.00" cy="350.02" r="3.7" fill="#fff" stroke="#000" stroke-width="1"/>
<circle cx="658.00" cy="345.05" r="3.7" fill="#fff" stroke="#000" stroke-width="1"/>
<path d="M476.00 340.50V340.75M502.00 318.50V322.00M502.00 336.50V332.80M528.00 311.50V314.65M528.00 328.50V325.45M554.00 299.50V304.21M554.00 319.50V315.01M580.00 288.50V294.93M580.00 311.50V305.73M606.00 279.50V285.56M606.00 302.50V296.36M632.00 271.50V276.86M632.00 293.50V287.66M658.00 265.50V270.96M658.00 287.50V281.76" stroke="#000" stroke-width="1" fill="none"/>
<path d="M394.00 458.50H402.00M394.00 460.50H402.00M420.00 399.50H428.00M420.00 406.50H428.00M446.00 368.50H454.00M446.00 377.50H454.00M472.00 340.50H480.00M472.00 351.50H480.00M498.00 318.50H506.00M498.00 336.50H506.00M524.00 311.50H532.00M524.00 328.50H532.00M550.00 299.50H558.00M550.00 319.50H558.00M576.00 288.50H584.00M576.00 311.50H584.00M602.00 279.50H610.00M602.00 302.50H610.00M628.00 271.50H636.00M628.00 293.50H636.00M654.00 265.50H662.00M654.00 287.50H662.00" stroke="#000" stroke-width="1" fill="none"/>
<path d="M450.00 391.50V392.72M450.00 401.50V400.32M476.00 370.50V373.04M476.00 383.50V380.64M502.00 360.50V363.43M502.00 373.50V371.03M528.00 354.50V357.63M528.00 368.50V365.23M554.00 347.50V350.32M554.00 360.50V357.92M580.00 343.50V345.06M580.00 354.50V352.66M606.00 335.50V337.71M606.00 347.50V345.31M632.00 329.50V331.02M632.00 340.50V338.62M658.00 324.50V326.06M658.00 335.50V333.66" stroke="#000" stroke-width="1" fill="none"/>
<path d="M394.00 458.50H402.00M394.00 460.50H402.00M420.00 413.50H428.00M420.00 419.50H428.00M446.00 391.50H454.00M446.00 401.50H454.00M472.00 370.50H480.00M472.00 383.50H480.00M498.00 360.50H506.00M498.00 373.50H506.00M524.00 354.50H532.00M524.00 368.50H532.00M550.00 347.50H558.00M550.00 360.50H558.00M576.00 343.50H584.00M576.00 354.50H584.00M602.00 335.50H610.00M602.00 347.50H610.00M628.00 329.50H636.00M628.00 340.50H636.00M654.00 324.50H662.00M654.00 335.50H662.00" stroke="#000" stroke-width="1" fill="none"/>
<path d="M450.00 389.50V389.33M476.00 365.50V365.34M502.00 350.50V349.83M554.00 335.50V334.56M580.00 325.50V324.70M606.00 318.50V318.24M632.00 310.50V310.20M658.00 302.50V302.27" stroke="#000" stroke-width="1" fill="none"/>
<path d="M394.00 458.50H402.00M394.00 460.50H402.00M420.00 408.50H428.00M420.00 412.50H428.00M446.00 383.50H454.00M446.00 389.50H454.00M472.00 358.50H480.00M472.00 365.50H480.00M498.00 343.50H506.00M498.00 350.50H506.00M524.00 336.50H532.00M524.00 343.50H532.00M550.00 327.50H558.00M550.00 335.50H558.00M576.00 318.50H584.00M576.00 325.50H584.00M602.00 311.50H610.00M602.00 318.50H610.00M628.00 303.50H636.00M628.00 310.50H636.00M654.00 295.50H662.00M654.00 302.50H662.00" stroke="#000" stroke-width="1" fill="none"/>
<path d="M450.00 399.50V402.02M450.00 413.50V410.42M476.00 381.50V385.92M476.00 399.50V394.32M502.00 367.50V376.37M502.00 393.50V384.77M528.00 363.50V372.50M528.00 390.50V380.90M554.00 355.50V365.42M554.00 383.50V373.82M580.00 349.50V359.84M580.00 378.50V368.24M606.00 339.50V353.44M606.00 375.50V361.84M632.00 331.50V345.82M632.00 368.50V354.22M658.00 323.50V340.85M658.00 366.50V349.25" stroke="#000" stroke-width="1" fill="none"/>
<path d="M394.00 459.50H402.00M394.00 461.50H402.00M420.00 423.50H428.00M420.00 427.50H428.00M446.00 399.50H454.00M446.00 413.50H454.00M472.00 381.50H480.00M472.00 399.50H480.00M498.00 367.50H506.00M498.00 393.50H506.00M524.00 363.50H532.00M524.00 390.50H532.00M550.00 355.50H558.00M550.00 383.50H558.00M576.00 349.50H584.00M576.00 378.50H584.00M602.00 339.50H610.00M602.00 375.50H610.00M628.00 331.50H636.00M628.00 368.50H636.00M654.00 323.50H662.00M654.00 366.50H662.00" stroke="#000" stroke-width="1" fill="none"/>
<text x="48.3" y="240.60" text-anchor="end" style="font-family:'Liberation Sans',sans-serif;font-size:10px">0.00</text>
<text x="48.3" y="207.46" text-anchor="end" style="font-family:'Liberation Sans',sans-serif;font-size:10px">0.05</text>
<text x="48.3" y="174.31" text-anchor="end" style="font-family:'Liberation Sans',sans-serif;font-size:10px">0.10</text>
<text x="48.3" y="141.17" text-anchor="end" style="font-family:'Liberation Sans',sans-serif;font-size:10px">0.15</text>
<text x="48.3" y="108.03" text-anchor="end" style="font-family:'Liberation Sans',sans-serif;font-size:10px">0.20</text>
<text x="48.3" y="74.89" text-anchor="end" style="font-family:'Liberation Sans',sans-serif;font-size:10px">0.25</text>
<text x="48.3" y="41.74" text-anchor="end" style="font-family:'Liberation Sans',sans-serif;font-size:10px">0.30</text>
<text x="48.3" y="8.60" text-anchor="end" style="font-family:'Liberation Sans',sans-serif;font-size:10px">0.35</text>
<text x="48.3" y="472.20" text-anchor="end" style="font-family:'Liberation Serif',serif;font-size:10px">0.0</text>
<text x="48.3" y="433.53" text-anchor="end" style="font-family:'Liberation Serif',serif;font-size:10px">0.2</text>
<text x="48.3" y="394.87" text-anchor="end" style="font-family:'Liberation Serif',serif;font-size:10px">0.4</text>
<text x="48.3" y="356.20" text-anchor="end" style="font-family:'Liberation Serif',serif;font-size:10px">0.6</text>
<text x="48.3" y="317.53" text-anchor="end" style="font-family:'Liberation Serif',serif;font-size:10px">0.8</text>
<text x="48.3" y="278.87" text-anchor="end" style="font-family:'Liberation Serif',serif;font-size:10px">1.0</text>
<text transform="translate(84.88,481) rotate(-90)" text-anchor="end" style="font-family:'Liberation Sans',sans-serif;font-size:10px">7-19</text>
<text transform="translate(105.66,481) rotate(-90)" text-anchor="end" style="font-family:'Liberation Sans',sans-serif;font-size:10px">7-20</text>
<text transform="translate(126.44,481) rotate(-90)" text-anchor="end" style="font-family:'Liberation Sans',sans-serif;font-size:10px">7-21</text>
<text transform="translate(147.22,481) rotate(-90)" text-anchor="end" style="font-family:'Liberation Sans',sans-serif;font-size:10px">7-22</text>
<text transform="translate(168.00,481) rotate(-90)" text-anchor="end" style="font-family:'Liberation Sans',sans-serif;font-size:10px">7-23</text>
<text transform="translate(188.78,481) rotate(-90)" text-anchor="end" style="font-family:'Liberation Sans',sans-serif;font-size:10px">7-24</text>
<text transform="translate(209.56,481) rotate(-90)" text-anchor="end" style="font-family:'Liberation Sans',sans-serif;font-size:10px">7-25</text>
<text transform="translate(230.34,481) rotate(-90)" text-anchor="end" style="font-family:'Liberation Sans',sans-serif;font-size:10px">7-26</text>
<text transform="translate(251.12,481) rotate(-90)" text-anchor="end" style="font-family:'Liberation Sans',sans-serif;font-size:10px">7-27</text>
<text transform="translate(271.90,481) rotate(-90)" text-anchor="end" style="font-family:'Liberation Sans',sans-serif;font-size:10px">7-28</text>
<text transform="translate(292.68,481) rotate(-90)" text-anchor="end" style="font-family:'Liberation Sans',sans-serif;font-size:10px">7-29</text>
<text transform="translate(313.46,481) rotate(-90)" text-anchor="end" style="font-family:'Liberation Sans',sans-serif;font-size:10px">7-30</text>
<text transform="translate(334.24,481) rotate(-90)" text-anchor="end" style="font-family:'Liberation Sans',sans-serif;font-size:10px">7-31</text>
<text transform="translate(355.02,481) rotate(-90)" text-anchor="end" style="font-family:'Liberation Sans',sans-serif;font-size:10px">8-01</text>
<text transform="translate(401.60,481) rotate(-90)" text-anchor="end" style="font-family:'Liberation Sans',sans-serif;font-size:10px">7-23</text>
<text transform="translate(427.60,481) rotate(-90)" text-anchor="end" style="font-family:'Liberation Sans',sans-serif;font-size:10px">7-24</text>
<text transform="translate(453.60,481) rotate(-90)" text-anchor="end" style="font-family:'Liberation Sans',sans-serif;font-size:10px">7-25</text>
<text transform="translate(479.60,481) rotate(-90)" text-anchor="end" style="font-family:'Liberation Sans',sans-serif;font-size:10px">7-26</text>
<text transform="translate(505.60,481) rotate(-90)" text-anchor="end" style="font-family:'Liberation Sans',sans-serif;font-size:10px">7-27</text>
<text transform="translate(531.60,481) rotate(-90)" text-anchor="end" style="font-family:'Liberation Sans',sans-serif;font-size:10px">7-28</text>
<text transform="translate(557.60,481) rotate(-90)" text-anchor="end" style="font-family:'Liberation Sans',sans-serif;font-size:10px">7-29</text>
<text transform="translate(583.60,481) rotate(-90)" text-anchor="end" style="font-family:'Liberation Sans',sans-serif;font-size:10px">7-30</text>
<text transform="translate(609.60,481) rotate(-90)" text-anchor="end" style="font-family:'Liberation Sans',sans-serif;font-size:10px">7-31</text>
<text transform="translate(635.60,481) rotate(-90)" text-anchor="end" style="font-family:'Liberation Sans',sans-serif;font-size:10px">8-01</text>
<text transform="translate(661.60,481) rotate(-90)" text-anchor="end" style="font-family:'Liberation Sans',sans-serif;font-size:10px">8-02</text>
<text x="216.4" y="511" text-anchor="middle" style="font-family:'Liberation Sans',sans-serif;font-size:10px">Date (m-d)</text>
<text x="528.2" y="511" text-anchor="middle" style="font-family:'Liberation Sans',sans-serif;font-size:10px">Date (m-d)</text>
<text x="215" y="20.5" text-anchor="middle" style="font-family:'Liberation Sans',sans-serif;font-size:10px">(a)</text>
<text x="527" y="20.5" text-anchor="middle" style="font-family:'Liberation Sans',sans-serif;font-size:10px">(b)</text>
<text x="215.5" y="252.5" text-anchor="middle" style="font-family:'Liberation Sans',sans-serif;font-size:10px">(c)</text>
<text x="531.3" y="251.5" text-anchor="middle" style="font-family:'Liberation Sans',sans-serif;font-size:10px">(d)</text>
<text transform="translate(8.1,104.8) rotate(-90)" text-anchor="middle" style="font-family:'Liberation Sans',sans-serif;font-size:9.85px">Ammonia volatilization rates</text>
<text transform="translate(21.5,103.3) rotate(-90)" text-anchor="middle" style="font-family:'Liberation Sans',sans-serif;font-size:10px">(kg N ha<tspan dy="-5" font-size="6">-1</tspan><tspan dy="5" dx="0.8">d</tspan><tspan dy="-5" font-size="6">-1</tspan><tspan dy="5">)</tspan></text>
<text transform="translate(18.5,367) rotate(-90)" text-anchor="middle" style="font-family:'Liberation Sans',sans-serif;font-size:9.85px">Cumulative ammonia volatilization</text>
<text transform="translate(33,365) rotate(-90)" text-anchor="middle" style="font-family:'Liberation Sans',sans-serif;font-size:10px">(kg N ha<tspan dy="-5" font-size="6">-1</tspan><tspan dy="5">)</tspan></text>
<path d="M609 17.80H631.3" stroke="#111" stroke-width="1"/>
<path d="M620.20 12.40L625.60 17.80L620.20 23.20L614.80 17.80Z" fill="#000"/>
<text x="634" y="21.40" style="font-family:'Liberation Sans',sans-serif;font-size:10px">A1F1</text>
<path d="M609 29.70H631.3" stroke="#111" stroke-width="1"/>
<rect x="616.40" y="25.90" width="7.60" height="7.60" fill="#000"/>
<text x="634" y="33.30" style="font-family:'Liberation Sans',sans-serif;font-size:10px">A1F2</text>
<path d="M609 41.50H631.3" stroke="#111" stroke-width="1"/>
<path d="M620.20 35.60L625.50 44.60L614.90 44.60Z" fill="#000"/>
<text x="634" y="45.10" style="font-family:'Liberation Sans',sans-serif;font-size:10px">A2F1</text>
<path d="M609 53.50H631.3" stroke="#111" stroke-width="1"/>
<circle cx="620.20" cy="53.50" r="3.7" fill="#fff" stroke="#000" stroke-width="1"/>
<text x="634" y="57.10" style="font-family:'Liberation Sans',sans-serif;font-size:10px">A2F2</text>
</svg>
</body></html>
